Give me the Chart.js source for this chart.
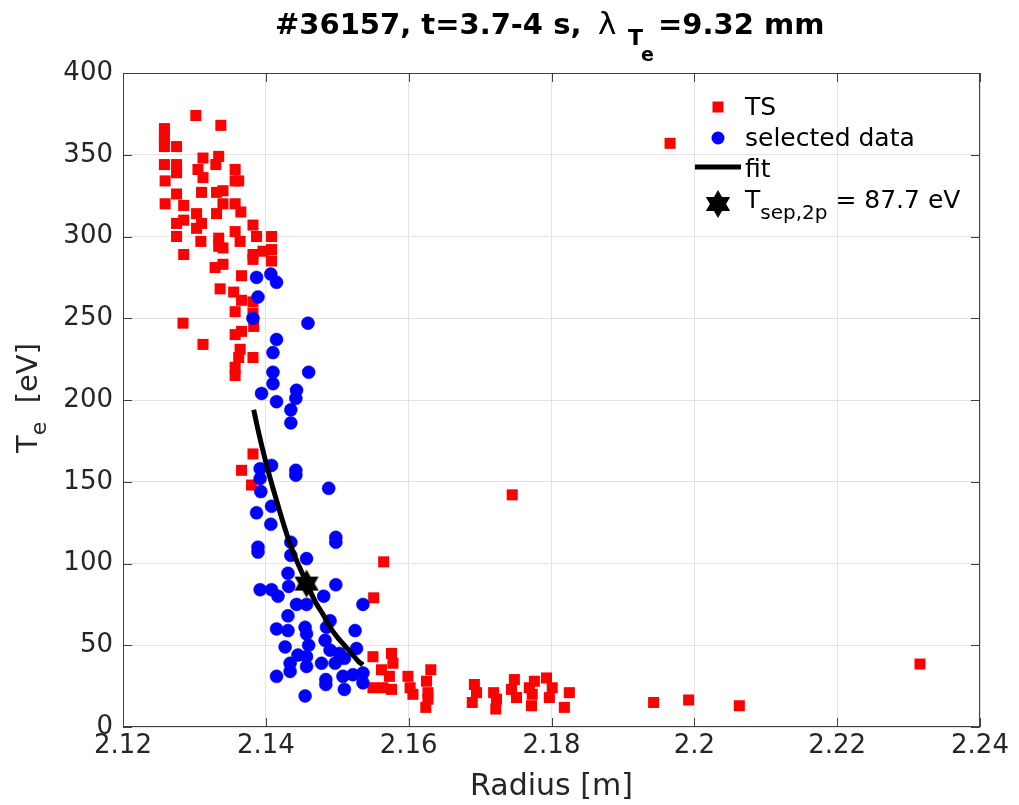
<!DOCTYPE html>
<html>
<head>
<meta charset="utf-8">
<script src="https://cdn.jsdelivr.net/npm/chart.js@4/dist/chart.umd.min.js"></script>
<style>
  html, body { margin: 0; padding: 0; background: #fff; }
  #wrap { width: 1019px; height: 805px; }
</style>
</head>
<body>
<div id="wrap"><canvas id="teChart" width="1019" height="805"></canvas></div>
<script>
// TS points (red squares)
const tsR = [2.1302, 2.1337, 2.1258, 2.1258, 2.1258, 2.1258, 2.1275, 2.1312, 2.1334, 2.1258,
  2.1275, 2.1275, 2.1305, 2.1312, 2.1330, 2.1357, 2.1357, 2.1362, 2.1259, 2.1275,
  2.1310, 2.1331, 2.1340, 2.1259, 2.1285, 2.1340, 2.1357, 2.1365, 2.1303, 2.1331,
  2.1285, 2.1275, 2.1310, 2.1303, 2.1382, 2.1357, 2.1387, 2.1408, 2.1275, 2.1309,
  2.1334, 2.1364, 2.1334, 2.1340, 2.1285, 2.1382, 2.1396, 2.1408,
  2.1329, 2.1340, 2.1382, 2.1408, 2.1366, 2.1336, 2.1355, 2.1366, 2.1382, 2.1357,
  2.1382, 2.1284, 2.1383, 2.1357, 2.1366, 2.1312, 2.1364, 2.1362, 2.1382, 2.1357, 2.1357,
  2.1382, 2.1366, 2.1380, 2.1565, 2.1551, 2.1550, 2.1576, 2.1578, 2.1562, 2.1573,
  2.1550, 2.1564, 2.1576,
  2.1599, 2.1602, 2.1606, 2.1631, 2.1625, 2.1627, 2.1627, 2.1624, 2.1692, 2.1695,
  2.1689, 2.1719, 2.1723, 2.1722, 2.1748, 2.1744, 2.1751, 2.1769, 2.1776, 2.1773,
  2.1772, 2.1793, 2.1801, 2.1797, 2.1825, 2.1818,
  2.1943, 2.1992, 2.2063, 2.2316, 2.1966, 2.1745];
const tsT = [374, 368, 366, 362, 359, 355, 355, 348, 349, 344,
  344, 339, 341, 336, 344, 341, 334, 334, 334, 326,
  327, 327, 328, 320, 319, 320, 320, 315, 314, 314,
  310, 308, 308, 305, 307, 303, 300, 300, 300, 297,
  299, 297, 294, 293, 289, 289, 291, 292,
  281, 283, 286, 285, 276, 268, 266, 261, 260, 254,
  253, 247, 245, 240, 242, 234, 231, 226, 226, 220, 215,
  167, 157, 148, 101, 79, 43, 45, 39, 35, 31,
  24, 24, 23,
  31, 24, 20, 35, 28, 21, 17, 12, 26, 21,
  15, 21, 17, 11, 29, 23, 18, 24, 28, 20,
  13, 30, 24, 18, 21, 12,
  15, 16.5, 13, 38.5, 357, 142];

// selected data (blue circles)
const selR = [2.1387, 2.1407, 2.1415, 2.1389, 2.1382, 2.1459, 2.1415, 2.1410, 2.1410, 2.1460,
  2.1410, 2.1394, 2.1443, 2.1442, 2.1415, 2.1435, 2.1435, 2.1392, 2.1408, 2.1442,
  2.1442, 2.1392, 2.1393, 2.1488, 2.1408, 2.1387, 2.1407, 2.1435, 2.1498, 2.1498,
  2.1389, 2.1389, 2.1435, 2.1457, 2.1431, 2.1432, 2.1392, 2.1408, 2.1417, 2.1481,
  2.1498, 2.1443, 2.1457, 2.1536, 2.1431, 2.1415, 2.1431, 2.1455, 2.1457, 2.1485,
  2.1525, 2.1490, 2.1427, 2.1460, 2.1483, 2.1490, 2.1503, 2.1527, 2.1445, 2.1434,
  2.1457, 2.1478, 2.1497, 2.1510, 2.1434, 2.1415, 2.1457, 2.1484, 2.1484, 2.1508,
  2.1522, 2.1536, 2.1536, 2.1510, 2.1455];
const selT = [275, 277, 272, 263, 250, 247, 237, 229, 217, 217,
  210, 204, 206, 201, 199, 194, 186, 158, 160, 157,
  154, 152, 144, 146, 135, 131, 124, 113, 116, 113,
  110, 107, 105, 103, 94, 86, 84, 84, 80, 80,
  87, 75, 75, 75, 68, 60, 59, 61, 57, 61,
  59, 65, 49, 50, 53, 47, 45, 48, 44, 39,
  43, 39, 39, 42, 34, 31, 37, 29, 26, 31,
  32, 33, 27, 23, 19];

// fit curve
const fitR = [2.1383, 2.1390, 2.1400, 2.1410, 2.1420, 2.1430, 2.1440, 2.1450, 2.1457,
  2.1470, 2.1480, 2.1490, 2.1500, 2.1510, 2.1520, 2.1530, 2.1536];
const fitT = [194, 180, 162, 146, 131, 117, 105, 95, 88,
  76, 69, 61, 55, 50, 45, 40, 38];

// separatrix point
const sepR = [2.1457];
const sepT = [87.7];

const xTicks = [2.12, 2.14, 2.16, 2.18, 2.2, 2.22, 2.24];
const xTickLabels = ['2.12', '2.14', '2.16', '2.18', '2.2', '2.22', '2.24'];
const yTicks = [0, 50, 100, 150, 200, 250, 300, 350, 400];
const yTickLabels = ['0', '50', '100', '150', '200', '250', '300', '350', '400'];

const toPts = (xs, ys) => xs.map((x, i) => ({ x: x, y: ys[i] }));

// six-pointed star marker
function hexagram(size) {
    const c = document.createElement('canvas');
    c.width = size; c.height = size;
    const g = c.getContext('2d');
    const cx = size / 2, cy = size / 2, r = size / 2 - 1;
    g.fillStyle = '#000';
    for (let k = 0; k < 2; k++) {
        g.beginPath();
        for (let i = 0; i < 3; i++) {
            const a = -Math.PI / 2 + k * Math.PI + i * 2 * Math.PI / 3;
            const px = cx + r * Math.cos(a), py = cy + r * Math.sin(a);
            if (i === 0) g.moveTo(px, py); else g.lineTo(px, py);
        }
        g.closePath();
        g.fill();
    }
    return c;
}
const starImg = hexagram(30);

const FONT = '"DejaVu Sans", sans-serif';

function drawRuns(ctx, runs, x, y, align) {
    let total = 0;
    runs.forEach(r => { ctx.font = r.font; total += ctx.measureText(r.t).width; });
    let cx = align === 'center' ? x - total / 2 : x;
    runs.forEach(r => {
        ctx.font = r.font;
        ctx.fillText(r.t, cx, y + (r.dy || 0));
        cx += ctx.measureText(r.t).width;
    });
}

const decorPlugin = {
    id: 'decor',
    afterDraw(chart) {
        const ctx = chart.ctx;
        const a = chart.chartArea;
        const xs = chart.scales.x, ys = chart.scales.y;
        ctx.save();
        // box + inward ticks
        ctx.strokeStyle = '#404040';
        ctx.lineWidth = 1;
        ctx.strokeRect(a.left + 0.5, a.top + 0.5, a.right - a.left - 1, a.bottom - a.top - 1);
        ctx.beginPath();
        xTicks.forEach(v => {
            const px = Math.round(xs.getPixelForValue(v)) + 0.5;
            ctx.moveTo(px, a.bottom); ctx.lineTo(px, a.bottom - 9);
            ctx.moveTo(px, a.top); ctx.lineTo(px, a.top + 9);
        });
        yTicks.forEach(v => {
            const py = Math.round(ys.getPixelForValue(v)) + 0.5;
            ctx.moveTo(a.left, py); ctx.lineTo(a.left + 9, py);
            ctx.moveTo(a.right, py); ctx.lineTo(a.right - 9, py);
        });
        ctx.stroke();

        ctx.fillStyle = '#000';
        ctx.textBaseline = 'alphabetic';
        ctx.textAlign = 'left';
        // title (tex-like layout)
        ctx.font = 'bold 29px ' + FONT;
        ctx.fillText('#36157, t=3.7-4 s,', 275, 34);
        ctx.font = '31px ' + FONT;
        ctx.fillText('\u03BB', 598, 34);
        ctx.font = 'bold 22px ' + FONT;
        ctx.fillText('T', 628, 45);
        ctx.font = 'bold 19px ' + FONT;
        ctx.fillText('e', 641, 61);
        ctx.font = 'bold 29px ' + FONT;
        ctx.fillText('=9.32 mm', 658, 34);

        // x axis title
        ctx.fillStyle = '#262626';
        drawRuns(ctx, [{ t: 'Radius [m]', font: '30px ' + FONT }], (a.left + a.right) / 2, 795, 'center');

        // y axis title
        ctx.save();
        ctx.translate(37, 398);
        ctx.rotate(-Math.PI / 2);
        drawRuns(ctx, [
            { t: 'T', font: '29px ' + FONT },
            { t: 'e', font: '22px ' + FONT, dy: 9 },
            { t: '  [eV]', font: '29px ' + FONT }
        ], 0, 0, 'center');
        ctx.restore();

        // legend
        const lx = 745;
        const lf = '25px ' + FONT;
        ctx.fillStyle = '#ff0000';
        ctx.fillRect(718 - 5.5, 107 - 5.5, 11, 11);
        ctx.fillStyle = '#0000ff';
        ctx.beginPath(); ctx.arc(718, 138, 6.5, 0, 2 * Math.PI); ctx.fill();
        ctx.strokeStyle = '#000';
        ctx.lineWidth = 5;
        ctx.beginPath(); ctx.moveTo(695, 167); ctx.lineTo(741, 167); ctx.stroke();
        ctx.drawImage(starImg, 718 - 15, 204 - 15);
        ctx.fillStyle = '#000';
        drawRuns(ctx, [{ t: 'TS', font: lf }], lx, 115, 'left');
        drawRuns(ctx, [{ t: 'selected data', font: lf }], lx, 146, 'left');
        drawRuns(ctx, [{ t: 'fit', font: lf }], lx, 177, 'left');
        drawRuns(ctx, [
            { t: 'T', font: lf },
            { t: 'sep,2p', font: '20px ' + FONT, dy: 11 },
            { t: ' = 87.7 eV', font: lf }
        ], lx, 208, 'left');
        ctx.restore();
    }
};

const teChart = new Chart('teChart', {
    type: 'scatter',
    data: {
        datasets: [
            {
                label: 'T_sep',
                data: toPts(sepR, sepT),
                pointStyle: starImg,
                order: 0
            },
            {
                label: 'fit',
                data: toPts(fitR, fitT),
                showLine: true,
                borderColor: '#000',
                borderWidth: 5,
                pointRadius: 0,
                cubicInterpolationMode: 'monotone',
                order: 1
            },
            {
                label: 'selected data',
                data: toPts(selR, selT),
                pointStyle: 'circle',
                pointRadius: 6.5,
                backgroundColor: '#0000ff',
                borderColor: '#0000ff',
                borderWidth: 0.5,
                order: 2
            },
            {
                label: 'TS',
                data: toPts(tsR, tsT),
                pointStyle: 'rect',
                pointRadius: 7.8,
                backgroundColor: '#ff0000',
                borderWidth: 0,
                order: 3
            }
        ]
    },
    options: {
        responsive: false,
        animation: false,
        devicePixelRatio: 1,
        layout: { padding: { top: 73, right: 39, left: 0, bottom: 0 } },
        plugins: {
            legend: { display: false },
            title: { display: false },
            tooltip: { enabled: false }
        },
        scales: {
            x: {
                type: 'linear',
                min: 2.12,
                max: 2.24,
                afterBuildTicks: (s) => { s.ticks = xTicks.map(v => ({ value: v })); },
                afterFit: (s) => { s.height = 78; },
                ticks: {
                    color: '#262626',
                    font: { family: FONT, size: 26 },
                    padding: 4,
                    maxRotation: 0,
                    autoSkip: false,
                    callback: (v, i) => xTickLabels[i]
                },
                grid: { color: '#e3e3e3', drawTicks: false },
                border: { display: false }
            },
            y: {
                type: 'linear',
                min: 0,
                max: 400,
                afterBuildTicks: (s) => { s.ticks = yTicks.map(v => ({ value: v })); },
                afterFit: (s) => { s.width = 123; },
                ticks: {
                    color: '#262626',
                    font: { family: FONT, size: 26 },
                    padding: 10,
                    autoSkip: false,
                    callback: (v, i) => yTickLabels[i]
                },
                grid: { color: '#e3e3e3', drawTicks: false },
                border: { display: false }
            }
        }
    },
    plugins: [decorPlugin]
});
</script>
</body>
</html>
